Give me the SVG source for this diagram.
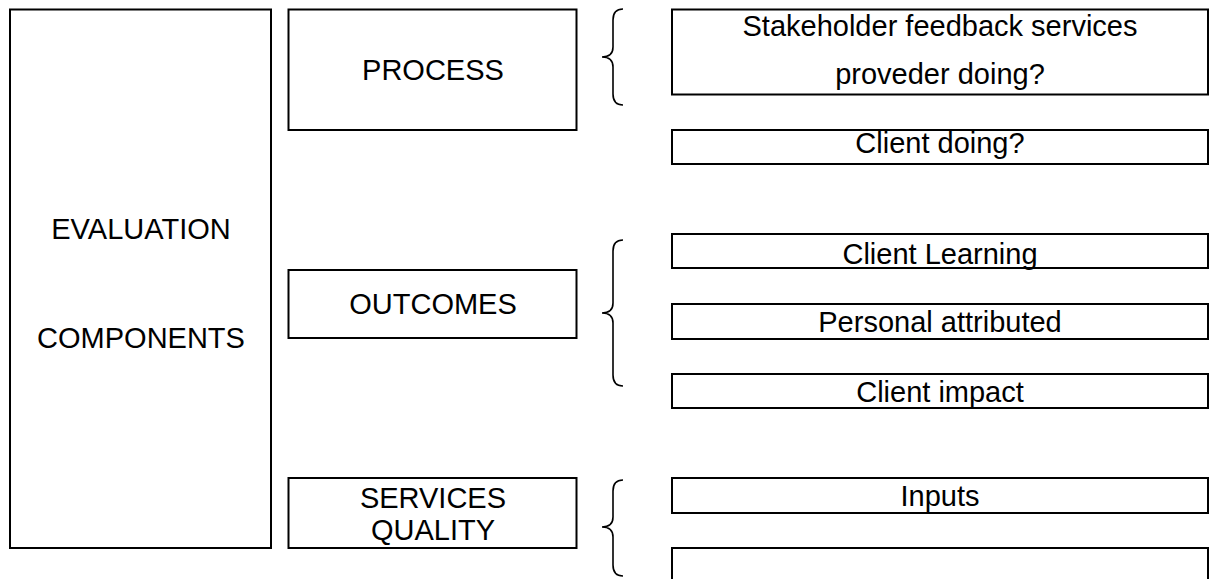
<svg xmlns="http://www.w3.org/2000/svg" width="1211" height="579" viewBox="0 0 1211 579">
<style>
.box{fill:#fff;stroke:#000;stroke-width:2}
.t{font-family:"Liberation Sans",Arial,sans-serif;font-size:29px;fill:#000;text-anchor:middle}
.br{fill:none;stroke:#000;stroke-width:1.6}
</style>
<rect width="1211" height="579" fill="#fff"/>
<g id="evaluation">
<rect class="box" x="10" y="9.5" width="261" height="538.5"/>
<text class="t" x="141" y="239">EVALUATION</text>
<text class="t" x="141" y="348">COMPONENTS</text>
</g>
<g id="process">
<rect class="box" x="288.5" y="9.5" width="288" height="120.5"/>
<text class="t" x="433" y="80">PROCESS</text>
</g>
<g id="outcomes">
<rect class="box" x="288.5" y="270" width="288" height="68"/>
<text class="t" x="433" y="314">OUTCOMES</text>
</g>
<g id="quality">
<rect class="box" x="288.5" y="478" width="288" height="70"/>
<text class="t" x="433" y="508">SERVICES</text>
<text class="t" x="433" y="540">QUALITY</text>
</g>
<g id="stakeholder">
<rect class="box" x="672" y="9.5" width="536" height="85"/>
<text class="t" x="940" y="36">Stakeholder feedback services</text>
<text class="t" x="940" y="84">proveder doing?</text>
</g>
<g id="client-doing">
<rect class="box" x="672" y="130" width="536" height="34"/>
<text class="t" x="940" y="153">Client doing?</text>
</g>
<g id="client-learning">
<rect class="box" x="672" y="234" width="536" height="34"/>
<text class="t" x="940" y="264">Client Learning</text>
</g>
<g id="personal">
<rect class="box" x="672" y="304" width="536" height="35"/>
<text class="t" x="940" y="332">Personal attributed</text>
</g>
<g id="client-impact">
<rect class="box" x="672" y="374" width="536" height="34"/>
<text class="t" x="940" y="402">Client impact</text>
</g>
<g id="inputs">
<rect class="box" x="672" y="478" width="536" height="35"/>
<text class="t" x="940" y="506">Inputs</text>
</g>
<g id="empty">
<rect class="box" x="672" y="548" width="536" height="45"/>
</g>
<g id="connectors">
<path class="br" d="M623,9 Q613,9 613,20 L613,47 Q613,57 602,57 Q613,57 613,67 L613,94 Q613,105 623,105"/>
<path class="br" d="M623,240 Q613,240 613,251 L613,303 Q613,313 602,313 Q613,313 613,323 L613,375 Q613,386 623,386"/>
<path class="br" d="M623,480 Q613,480 613,491 L613,517 Q613,527 602,527 Q613,527 613,537 L613,565 Q613,576 623,576"/>
</g>
</svg>
